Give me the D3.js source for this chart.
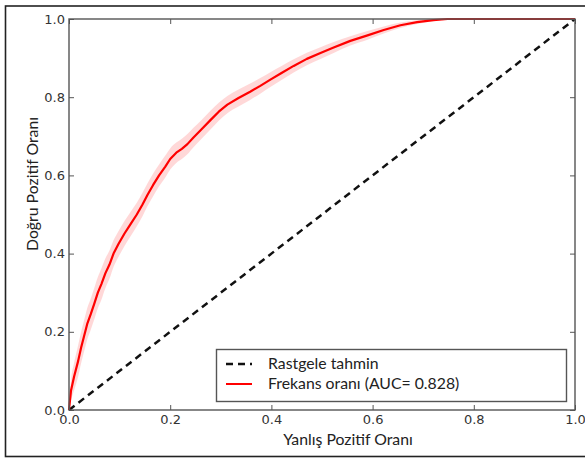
<!DOCTYPE html>
<html lang="tr">
	<head>
		<meta charset="utf-8">
		<title>ROC</title>
		<script type="text/javascript" src="https://cdn.jsdelivr.net/npm/d3@7"></script>
		<style type="text/css">
			body { margin: 0; background: #fff; }
			.tick text { font-family: "DejaVu Sans", sans-serif; font-size: 13px; fill: #333; }
			.tick line { stroke: #555; }
			.lbl { font-family: Lato, "Open Sans", sans-serif; fill: #222; }
		</style>
	</head>
	<body>
		<script type="text/javascript">

			//Width and height
			var w = 585;
			var h = 458;

			//Data
			var fpr = [0, 0.004, 0.010, 0.018, 0.024, 0.030, 0.036, 0.043, 0.050, 0.057,
				0.064, 0.072, 0.080, 0.088, 0.098, 0.110, 0.122, 0.134, 0.145, 0.155,
				0.166, 0.178, 0.190, 0.200, 0.212, 0.223, 0.234, 0.246, 0.262, 0.280,
				0.296, 0.313, 0.335, 0.358, 0.378, 0.398, 0.420, 0.444, 0.470, 0.497,
				0.523, 0.556, 0.590, 0.622, 0.655, 0.688, 0.720, 0.748, 0.8, 0.9, 1.0];
			var tpr = [0, 0.05, 0.085, 0.125, 0.16, 0.19, 0.22, 0.245, 0.272, 0.30,
				0.322, 0.35, 0.372, 0.40, 0.425, 0.452, 0.476, 0.50, 0.525, 0.55,
				0.575, 0.60, 0.622, 0.642, 0.658, 0.668, 0.680, 0.697, 0.718, 0.742,
				0.763, 0.781, 0.798, 0.814, 0.829, 0.845, 0.862, 0.880, 0.898, 0.913,
				0.927, 0.944, 0.958, 0.972, 0.984, 0.992, 0.997, 1.0, 1.0, 1.0, 1.0];
			// half width of the shaded band (tpr units)
			var band = [0, 0.025, 0.035, 0.04, 0.04, 0.04, 0.04, 0.04, 0.04, 0.04,
				0.04, 0.038, 0.036, 0.034, 0.033, 0.032, 0.031, 0.03, 0.03, 0.029,
				0.029, 0.028, 0.028, 0.027, 0.026, 0.026, 0.026, 0.025, 0.024, 0.024,
				0.023, 0.022, 0.022, 0.021, 0.02, 0.019, 0.018, 0.017, 0.016, 0.015,
				0.014, 0.012, 0.011, 0.009, 0.007, 0.005, 0.003, 0, 0, 0, 0];

			var chanceX = [0, 1];
			var chanceY = [0, 1];

			var ticks = [0, 0.2, 0.4, 0.6, 0.8, 1.0];
			var xTitle = "Yanlış Pozitif Oranı";
			var yTitle = "Doğru Pozitif Oranı";
			var legendLabels = ["Rastgele tahmin", "Frekans oranı (AUC= 0.828)"];

			var roc = fpr.map(function(d, i) {
				return { x: d, y: tpr[i], lo: Math.max(0, tpr[i] - band[i]), hi: Math.min(1, tpr[i] + band[i]) };
			});

			//Plot box
			var plotL = 69, plotR = 575, plotT = 19, plotB = 410;

			var xScale = d3.scaleLinear().domain([0, 1]).range([plotL, plotR]);
			var yScale = d3.scaleLinear().domain([0, 1]).range([plotB, plotT]);

			var svg = d3.select("body")
						.append("svg")
						.attr("width", w)
						.attr("height", h);

			svg.append("rect")
				.attr("width", w).attr("height", h)
				.attr("fill", "#fff");

			//Outer frame of the figure
			svg.append("rect")
				.attr("x", 5.5).attr("y", 6)
				.attr("width", 620).attr("height", 450.5)
				.attr("fill", "none")
				.attr("stroke", "#222")
				.attr("stroke-width", 1.6);

			//Shaded band
			svg.append("path")
				.datum(roc)
				.attr("fill", "rgba(255, 40, 40, 0.18)")
				.attr("d", d3.area()
					.curve(d3.curveMonotoneX)
					.x(function(d) { return xScale(d.x); })
					.y0(function(d) { return yScale(d.lo); })
					.y1(function(d) { return yScale(d.hi); }));

			//Chance line
			svg.append("line")
				.attr("x1", xScale(chanceX[0])).attr("y1", yScale(chanceY[0]))
				.attr("x2", xScale(chanceX[1])).attr("y2", yScale(chanceY[1]))
				.attr("stroke", "#111")
				.attr("stroke-width", 2.5)
				.attr("stroke-dasharray", "7,5");

			//ROC curve
			svg.append("path")
				.datum(roc)
				.attr("fill", "none")
				.attr("stroke", "#f00")
				.attr("stroke-width", 2.2)
				.attr("stroke-linejoin", "round")
				.attr("d", d3.line()
					.x(function(d) { return xScale(d.x); })
					.y(function(d) { return yScale(d.y); }));

			//Axes, ticks pointing inwards
			var fmt = d3.format(".1f");
			svg.append("g")
				.attr("transform", "translate(0," + plotB + ")")
				.call(d3.axisBottom(xScale).tickValues(ticks).tickFormat(fmt).tickSize(-5).tickPadding(5));
			svg.append("g")
				.attr("transform", "translate(0," + plotT + ")")
				.call(d3.axisTop(xScale).tickValues(ticks).tickFormat("").tickSize(-5));
			svg.append("g")
				.attr("transform", "translate(" + plotL + ",0)")
				.call(d3.axisLeft(yScale).tickValues(ticks).tickFormat(fmt).tickSize(-5).tickPadding(4));
			svg.append("g")
				.attr("transform", "translate(" + plotR + ",0)")
				.call(d3.axisRight(yScale).tickValues(ticks).tickFormat("").tickSize(-5));
			svg.selectAll(".domain").remove();
			svg.selectAll(".tick text").attr("fill", "#333");

			//Spines
			svg.append("rect")
				.attr("x", plotL).attr("y", plotT)
				.attr("width", plotR - plotL).attr("height", plotB - plotT)
				.attr("fill", "none")
				.attr("stroke", "#555")
				.attr("stroke-width", 1.4);

			//Axis titles
			svg.append("text")
				.attr("class", "lbl")
				.attr("x", 348).attr("y", 445)
				.attr("text-anchor", "middle")
				.attr("font-size", "15.8px")
				.text(xTitle);
			svg.append("text")
				.attr("class", "lbl")
				.attr("transform", "translate(38,184) rotate(-90)")
				.attr("text-anchor", "middle")
				.attr("font-size", "15.8px")
				.text(yTitle);

			//Legend
			var lg = svg.append("g");
			lg.append("rect")
				.attr("x", 216.5).attr("y", 349.5)
				.attr("width", 350).attr("height", 52)
				.attr("fill", "#fff")
				.attr("stroke", "#555")
				.attr("stroke-width", 1.4);
			lg.append("line")
				.attr("x1", 226).attr("x2", 252).attr("y1", 364).attr("y2", 364)
				.attr("stroke", "#111").attr("stroke-width", 2.5).attr("stroke-dasharray", "7,5");
			lg.append("line")
				.attr("x1", 226).attr("x2", 252).attr("y1", 384).attr("y2", 384)
				.attr("stroke", "#f00").attr("stroke-width", 2);
			lg.selectAll("text.leg")
				.data(legendLabels)
				.enter()
				.append("text")
				.attr("class", "lbl leg")
				.attr("x", 268)
				.attr("y", function(d, i) { return 369 + i * 20; })
				.attr("font-size", "15.8px")
				.text(function(d) { return d; });

		</script>
	</body>
</html>
